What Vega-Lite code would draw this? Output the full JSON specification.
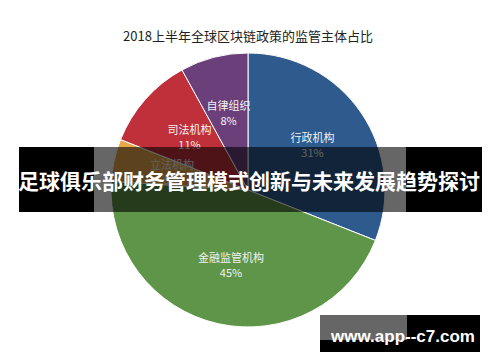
{
  "$schema": "https://vega.github.io/schema/vega-lite/v6.json",
  "width": 496,
  "height": 262,
  "autosize": {"type": "none"},
  "padding": {"top": 59, "left": 0, "right": 4, "bottom": 41},
  "background": "white",
  "config": {"view": {"stroke": null}},
  "title": {
    "text": "2018上半年全球区块链政策的监管主体占比",
    "font": "Noto Sans CJK SC",
    "fontSize": 13,
    "fontWeight": "normal",
    "color": "#222222",
    "anchor": "middle",
    "baseline": "alphabetic",
    "offset": -3
  },
  "layer": [
    {
      "data": {"name": "pie", "values": [
        {"category": "行政机构", "value": 31, "pct": "31%", "order": 1},
        {"category": "金融监管机构", "value": 45, "pct": "45%", "order": 2},
        {"category": "立法机构", "value": 5, "pct": "5%", "order": 3},
        {"category": "司法机构", "value": 11, "pct": "11%", "order": 4},
        {"category": "自律组织", "value": 8, "pct": "8%", "order": 5}
      ]},
      "layer": [
        {
          "mark": {"type": "arc", "outerRadius": 137, "stroke": "white", "strokeWidth": 1},
          "encoding": {
            "theta": {"field": "value", "type": "quantitative", "stack": true},
            "order": {"field": "order", "type": "quantitative"},
            "color": {
              "field": "category", "type": "nominal", "legend": null,
              "scale": {
                "domain": ["行政机构", "金融监管机构", "立法机构", "司法机构", "自律组织"],
                "range": ["#2E5A8E", "#5E9548", "#E8A84A", "#C0303A", "#6B3F7A"]
              }
            }
          }
        },
        {
          "mark": {"type": "text", "radius": 78, "dy": -7, "font": "Noto Sans CJK SC", "fontSize": 11, "color": "#f2f2f2"},
          "encoding": {
            "theta": {"field": "value", "type": "quantitative", "stack": true},
            "order": {"field": "order", "type": "quantitative"},
            "text": {"field": "category"}
          }
        },
        {
          "mark": {"type": "text", "radius": 78, "dy": 8, "font": "Noto Sans CJK SC", "fontSize": 11, "color": "#f2f2f2"},
          "encoding": {
            "theta": {"field": "value", "type": "quantitative", "stack": true},
            "order": {"field": "order", "type": "quantitative"},
            "text": {"field": "pct"}
          }
        }
      ]
    },
    {
      "data": {"values": [{}]},
      "mark": {"type": "rect", "x": 19, "x2": 94, "y": 88, "y2": 153, "color": "black", "opacity": 1},
      "encoding": {}
    },
    {
      "data": {"values": [{}]},
      "mark": {"type": "rect", "x": 406, "x2": 482, "y": 88, "y2": 153, "color": "black", "opacity": 1},
      "encoding": {}
    },
    {
      "data": {"values": [{}]},
      "mark": {"type": "rect", "x": 94, "x2": 406, "y": 88, "y2": 153, "color": "black", "opacity": 0.6},
      "encoding": {}
    },
    {
      "data": {"values": [{"caption": "足球俱乐部财务管理模式创新与未来发展趋势探讨"}]},
      "mark": {"type": "text", "x": 249, "y": 124, "baseline": "middle", "align": "center", "font": "Noto Sans CJK SC", "fontWeight": "bold", "fontSize": 21, "color": "white"},
      "encoding": {"text": {"field": "caption"}}
    },
    {
      "data": {"values": [{}]},
      "mark": {"type": "rect", "x": 320, "x2": 407, "y": 256, "y2": 281, "color": "black", "opacity": 0.6},
      "encoding": {}
    },
    {
      "data": {"values": [{}]},
      "mark": {"type": "rect", "x": 407, "x2": 480, "y": 256, "y2": 281, "color": "black", "opacity": 1},
      "encoding": {}
    },
    {
      "data": {"values": [{}]},
      "mark": {"type": "rect", "x": 320, "x2": 480, "y": 281, "y2": 293, "color": "black", "opacity": 1},
      "encoding": {}
    },
    {
      "data": {"values": [{"url": "www.app--c7.com"}]},
      "mark": {"type": "text", "x": 403, "y": 283, "baseline": "alphabetic", "align": "center", "font": "Liberation Sans", "fontWeight": "bold", "fontSize": 17, "color": "white"},
      "encoding": {"text": {"field": "url"}}
    }
  ]
}
